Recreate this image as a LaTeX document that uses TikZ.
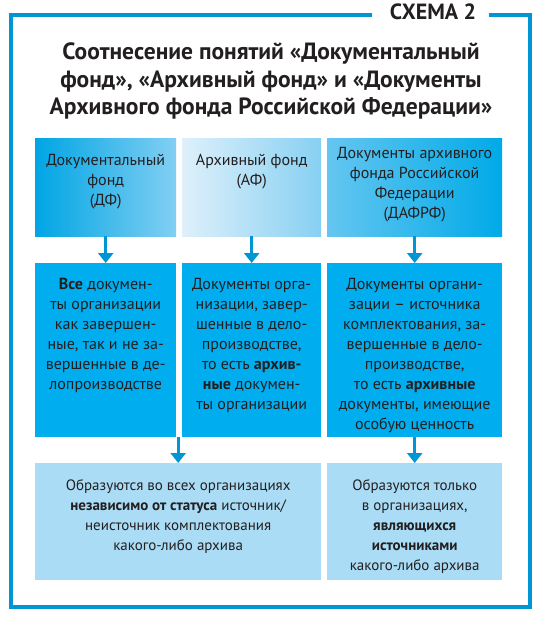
\documentclass[tikz,border=0pt]{standalone}
\usepackage{fontspec}
\setmainfont{PT Sans}
\usetikzlibrary{positioning, arrows.meta, calc}

\definecolor{frameblue}{RGB}{0,150,214}
\definecolor{cyanbox}{RGB}{0,174,239}
\definecolor{palebox}{RGB}{170,220,245}
\definecolor{inktext}{RGB}{35,31,32}

% text of one cell: width, height, top padding, lines
\newcommand{\celltext}[4]{\parbox[c][#2][t]{#1}{\centering\fontsize{16}{20}\selectfont\vspace*{#3}#4}}
\newcommand{\lowtext}[4]{\parbox[c][#2][t]{#1}{\centering\fontsize{15}{20}\selectfont\vspace*{#3}#4}}

\tikzset{
  cell/.style={inner sep=0pt, anchor=north west, text=inktext},
  flow/.style={-{Triangle[width=15pt,length=10pt]}, line width=3pt, frameblue}
}

\begin{document}
\begin{tikzpicture}[x=1pt, y=-1pt]
			\useasboundingbox (0,0) rectangle (543,618);
			
			% Рамка
			\draw[frameblue, line width=3.2pt] (372,15) -- (11,15) -- (11,607) -- (530,607) -- (530,15) -- (489,15);
			\node[text=inktext, font=\fontsize{22}{24}\selectfont\bfseries] (scheme) at (433,12) {СХЕМА 2};
			
			% Заголовок
			\node[text=inktext, align=center, font=\fontsize{23.5}{27.5}\selectfont\bfseries] (title) at (271,81)
				{Соотнесение понятий «Документальный\\фонд», «Архивный фонд» и «Документы\\Архивного фонда Российской Федерации»};
			
			% Понятия
			\node[cell, left color={rgb,255:red,0;green,165;blue,228}, right color={rgb,255:red,130;green,207;blue,243}] (dfHead) at (35,138)
				{\celltext{141pt}{98pt}{16pt}{Документальный\\фонд\\(ДФ)}};
			\node[cell, left color={rgb,255:red,222;green,240;blue,251}, right color={rgb,255:red,135;green,208;blue,242}] (afHead) at (182,138)
				{\celltext{139pt}{98pt}{16pt}{Архивный фонд\\(АФ)}};
			\node[cell, left color={rgb,255:red,100;green,198;blue,240}, right color={rgb,255:red,0;green,170;blue,232}] (dafrfHead) at (327,138)
				{\celltext{175pt}{98pt}{9pt}{Документы архивного\\фонда Российской\\Федерации\\(ДАФРФ)}};
			
			% Определения
			\node[cell, fill=cyanbox] (dfText) at (35,263)
				{\celltext{141pt}{174pt}{15pt}{\textbf{Все} докумен-\\ты организации\\как завершен-\\ные, так и не за-\\вершенные в де-\\лопроизводстве}};
			\node[cell, fill=cyanbox] (afText) at (182,263)
				{\celltext{139pt}{174pt}{15pt}{Документы орга-\\низации, завер-\\шенные в дело-\\производстве,\\то есть \textbf{архив-}\\\textbf{ные} докумен-\\ты организации}};
			\node[cell, fill=cyanbox] (dafrfText) at (327,263)
				{\celltext{175pt}{174pt}{15pt}{Документы органи-\\зации – источника\\комплектования, за-\\вершенные в дело-\\производстве,\\то есть \textbf{архивные}\\документы, имеющие\\особую ценность}};
			
			% Где образуются
			\node[cell, fill=palebox] (allOrg) at (35,463)
				{\lowtext{286pt}{117pt}{16pt}{Образуются во всех организациях\\\textbf{независимо от статуса} источник/\\неисточник комплектования\\какого-либо архива}};
			\node[cell, fill=palebox] (srcOrg) at (327,463)
				{\lowtext{175pt}{117pt}{16pt}{Образуются только\\в организациях,\\\textbf{являющихся}\\\textbf{источниками}\\какого-либо архива}};
			
			% Стрелки
			\draw[flow] (dfHead.south) -- (dfText.north);
			\draw[flow] (afHead.south) -- (afText.north);
			\draw[flow] (dafrfHead.south) -- (dafrfText.north);
			\draw[flow] (allOrg.north |- dfText.south) -- (allOrg.north);
			\draw[flow] (dafrfText.south) -- (srcOrg.north);
		\end{tikzpicture}
\end{document}
